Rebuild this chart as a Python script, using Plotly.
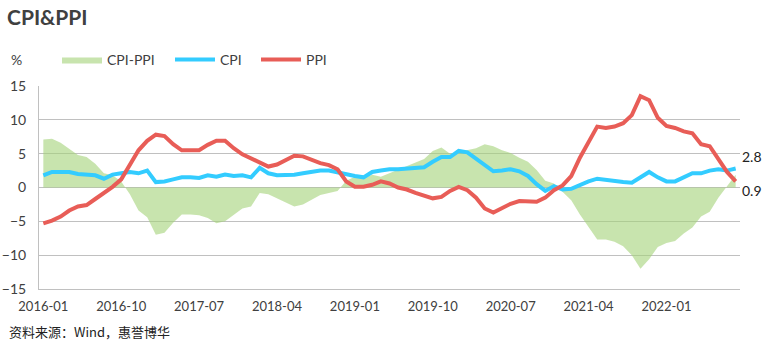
import plotly.graph_objects as go

months = [f"{y}-{m:02d}" for y in range(2016, 2023) for m in range(1, 13)][:81]

cpi = [1.8, 2.3, 2.3, 2.3, 2.0, 1.9, 1.8, 1.3, 1.9, 2.1, 2.3, 2.1,
       2.5, 0.8, 0.9, 1.2, 1.5, 1.5, 1.4, 1.8, 1.6, 1.9, 1.7, 1.8,
       1.5, 2.9, 2.1, 1.8, 1.8, 1.9, 2.1, 2.3, 2.5, 2.5, 2.2, 1.9,
       1.7, 1.5, 2.3, 2.5, 2.7, 2.7, 2.8, 2.8, 3.0, 3.8, 4.5, 4.5,
       5.4, 5.2, 4.3, 3.3, 2.4, 2.5, 2.7, 2.4, 1.7, 0.5, -0.5, 0.2,
       -0.3, -0.2, 0.4, 0.9, 1.3, 1.1, 1.0, 0.8, 0.7, 1.5, 2.3, 1.5,
       0.9, 0.9, 1.5, 2.1, 2.1, 2.5, 2.7, 2.5, 2.8]

ppi = [-5.3, -4.9, -4.3, -3.4, -2.8, -2.6, -1.7, -0.8, 0.1, 1.2, 3.3, 5.5,
       6.9, 7.8, 7.6, 6.4, 5.5, 5.5, 5.5, 6.3, 6.9, 6.9, 5.8, 4.9,
       4.3, 3.7, 3.1, 3.4, 4.1, 4.7, 4.6, 4.1, 3.6, 3.3, 2.7, 0.9,
       0.1, 0.1, 0.4, 0.9, 0.6, 0.0, -0.3, -0.8, -1.2, -1.6, -1.4, -0.5,
       0.1, -0.4, -1.5, -3.1, -3.7, -3.0, -2.4, -2.0, -2.1, -2.1, -1.5, -0.4,
       0.3, 1.7, 4.4, 6.8, 9.0, 8.8, 9.0, 9.5, 10.7, 13.5, 12.9, 10.3,
       9.1, 8.8, 8.3, 8.0, 6.4, 6.1, 4.2, 2.3, 0.9]

spread = [7.1, 7.2, 6.6, 5.7, 4.8, 4.5, 3.5, 2.1, 1.8, 0.9, -1.0, -3.4,
          -4.4, -7.0, -6.7, -5.2, -4.0, -4.0, -4.1, -4.5, -5.3, -5.0, -4.1, -3.1,
          -2.8, -0.8, -1.0, -1.6, -2.3, -2.8, -2.5, -1.8, -1.1, -0.8, -0.5, 1.0,
          1.6, 1.4, 1.9, 1.6, 2.1, 2.7, 3.1, 3.6, 4.2, 5.4, 5.9, 5.0,
          5.3, 5.6, 5.8, 6.4, 6.1, 5.5, 5.1, 4.4, 3.8, 2.6, 1.0, 0.6,
          -0.6, -1.9, -4.0, -5.9, -7.7, -7.7, -8.0, -8.7, -10.0, -12.0, -10.6, -8.8,
          -8.2, -7.9, -6.8, -5.9, -4.3, -3.6, -1.5, 0.2, 1.9]

tick_labels = ["2016-01", "2016-10", "2017-07", "2018-04", "2019-01",
               "2019-10", "2020-07", "2021-04", "2022-01"]
tick_idx = [months.index(t) for t in tick_labels]
x = list(range(len(months)))

FONT = "Lato, 'Noto Sans', sans-serif"
TXT = "#404040"

fig = go.Figure()
fig.add_trace(go.Scatter(
    x=x, y=spread, name="CPI-PPI", mode="lines", fill="tozeroy",
    line=dict(width=0, color="rgba(163,210,120,0.6)"),
    fillcolor="rgba(163,210,120,0.6)", hoverinfo="skip", legendwidth=58))
fig.add_trace(go.Scatter(
    x=x, y=cpi, name="CPI", mode="lines",
    line=dict(width=4, color="#33ccff"), legendwidth=31))
fig.add_trace(go.Scatter(
    x=x, y=ppi, name="PPI", mode="lines",
    line=dict(width=4, color="#e85d57")))

fig.add_annotation(x=x[-1], y=cpi[-1], text=f"{cpi[-1]}", showarrow=False,
                   xanchor="left", yanchor="middle", xshift=4, yshift=12,
                   font=dict(family=FONT, size=14, color="#222"))
fig.add_annotation(x=x[-1], y=ppi[-1], text=f"{ppi[-1]}", showarrow=False,
                   xanchor="left", yanchor="middle", xshift=4, yshift=-9,
                   font=dict(family=FONT, size=14, color="#222"))

fig.add_annotation(xref="paper", yref="paper", x=-30 / 701, y=(289 - 60) / 203,
                   text="%", showarrow=False, xanchor="left", yanchor="middle",
                   font=dict(family=FONT, size=14, color=TXT))
fig.add_annotation(xref="paper", yref="paper", x=-32 / 701, y=(289 - 331) / 203,
                   text="资料来源：Wind，惠誉博华", showarrow=False,
                   xanchor="left", yanchor="middle",
                   font=dict(family="'Noto Sans CJK SC', sans-serif", size=13, color="#222"))

fig.update_layout(
    width=767, height=355,
    margin=dict(l=39, r=27, t=86, b=66, autoexpand=False),
    paper_bgcolor="white", plot_bgcolor="white",
    title=dict(text="<b>CPI&PPI</b>", x=7 / 767, xanchor="left",
               y=1 - 18 / 355, yanchor="middle", yref="container",
               font=dict(family=FONT, size=21, color=TXT)),
    legend=dict(orientation="h", x=(57 - 39) / 701, xanchor="left",
                y=(289 - 60) / 203, yanchor="middle",
                font=dict(family=FONT, size=14, color=TXT),
                bgcolor="rgba(0,0,0,0)", itemwidth=40, tracegroupgap=0),
    showlegend=True,
    xaxis=dict(range=[-0.5, len(months) - 0.5], tickmode="array",
               tickvals=tick_idx, ticktext=tick_labels, showgrid=False,
               showline=True, linecolor="#c0c0c0", linewidth=1, ticks="",
               zeroline=False, ticklabelstandoff=5, automargin=False,
               tickfont=dict(family=FONT, size=13, color=TXT)),
    yaxis=dict(range=[-15, 15], tickvals=[-15, -10, -5, 0, 5, 10, 15],
               showgrid=True, gridcolor="#c0c0c0", gridwidth=1,
               zeroline=True, zerolinecolor="#c0c0c0", zerolinewidth=1,
               showline=True, linecolor="#c0c0c0", linewidth=1, ticks="",
               ticklabelstandoff=9, automargin=False,
               tickfont=dict(family=FONT, size=14, color=TXT)),
)

fig.write_html("out.html", config={"displayModeBar": False},
               post_script="document.body.style.margin='0';document.body.style.padding='0';")
